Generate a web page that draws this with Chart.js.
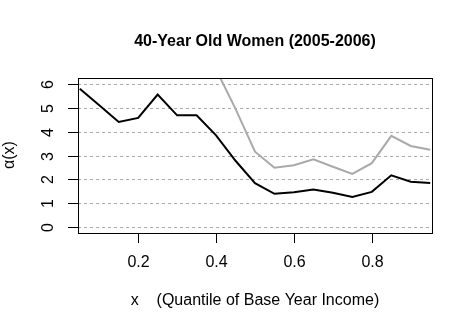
<!DOCTYPE html>
<html>
<head>
<meta charset="utf-8">
<script src="https://cdn.jsdelivr.net/npm/chart.js@4/dist/chart.umd.min.js"></script>
<style>
html,body{margin:0;padding:0;background:#fff;}
#wrap{width:472px;height:331px;}
</style>
</head>
<body>
<div id="wrap"><canvas id="c" width="472" height="331"></canvas></div>
<script>
// ---- data ----
const quantiles = [0.05,0.10,0.15,0.20,0.25,0.30,0.35,0.40,0.45,0.50,0.55,0.60,0.65,0.70,0.75,0.80,0.85,0.90,0.95];
const alphaBlack = [5.79,5.10,4.40,4.57,5.55,4.68,4.68,3.84,2.78,1.84,1.40,1.46,1.58,1.44,1.27,1.48,2.17,1.90,1.85];
const alphaGray  = [null,null,null,null,null,null,null,6.6,4.95,3.16,2.49,2.59,2.84,2.53,2.23,2.68,3.82,3.40,3.24];
const xTicks = [0.2,0.4,0.6,0.8];
const yTicks = [0,1,2,3,4,5,6];
const titleText = "40-Year Old Women (2005-2006)";
const xTitle = "x    (Quantile of Base Year Income)";
const yTitle = "\u03B1(x)";

const toPts = arr => quantiles.map((q,i)=>({x:q,y:arr[i]}));

const decor = {
  id:'decor',
  beforeDatasetsDraw(chart){
    const {ctx, chartArea:a, scales:{x,y}} = chart;
    ctx.save();
    ctx.strokeStyle = '#aaaaaa';
    ctx.lineWidth = 1;
    ctx.setLineDash([3,3]);
    yTicks.forEach(v=>{
      const py = Math.round(y.getPixelForValue(v))+0.5;
      ctx.beginPath(); ctx.moveTo(a.left,py); ctx.lineTo(a.right,py); ctx.stroke();
    });
    ctx.restore();
  },
  afterDraw(chart){
    const {ctx, chartArea:a, scales:{x,y}} = chart;
    ctx.save();
    ctx.strokeStyle = '#000';
    ctx.lineWidth = 1;
    ctx.setLineDash([]);
    // box
    ctx.strokeRect(Math.round(a.left)+0.5, Math.round(a.top)+0.5, Math.round(a.right-a.left), Math.round(a.bottom-a.top));
    ctx.fillStyle = '#000';
    ctx.font = '16px "Liberation Sans", Arial, sans-serif';
    // x ticks
    ctx.textAlign = 'center'; ctx.textBaseline = 'middle';
    xTicks.forEach(v=>{
      const px = Math.round(x.getPixelForValue(v))+0.5;
      ctx.beginPath(); ctx.moveTo(px,a.bottom); ctx.lineTo(px,a.bottom+10); ctx.stroke();
      ctx.fillText(v.toFixed(1), px, a.bottom+30);
    });
    // y ticks
    yTicks.forEach(v=>{
      const py = Math.round(y.getPixelForValue(v))+0.5;
      ctx.beginPath(); ctx.moveTo(a.left,py); ctx.lineTo(a.left-10,py); ctx.stroke();
      ctx.save();
      ctx.translate(a.left-29, py);
      ctx.rotate(-Math.PI/2);
      ctx.fillText(String(v), 0, 0);
      ctx.restore();
    });
    // axis titles
    const cx = (a.left+a.right)/2;
    ctx.fillText(xTitle, cx, 301);
    ctx.save();
    ctx.translate(10, 155);
    ctx.rotate(-Math.PI/2);
    ctx.fillText(yTitle, 0, 0);
    ctx.restore();
    // title
    ctx.font = 'bold 16px "Liberation Sans", Arial, sans-serif';
    ctx.fillText(titleText, cx, 42);
    ctx.restore();
  }
};

new Chart(document.getElementById('c'), {
  type:'line',
  data:{
    datasets:[
      {data:toPts(alphaGray), borderColor:'#a9a9a9', borderWidth:2, pointRadius:0, tension:0, spanGaps:false},
      {data:toPts(alphaBlack), borderColor:'#000000', borderWidth:2, pointRadius:0, tension:0}
    ]
  },
  options:{
    responsive:false,
    animation:false,
    devicePixelRatio:1,
    layout:{padding:{left:78,top:78,right:40,bottom:98}},
    plugins:{legend:{display:false},title:{display:false},tooltip:{enabled:false}},
    scales:{
      x:{type:'linear',min:0.0454,max:0.9546,display:false},
      y:{type:'linear',min:-0.24,max:6.24,display:false}
    }
  },
  plugins:[decor]
});
</script>
</body>
</html>
